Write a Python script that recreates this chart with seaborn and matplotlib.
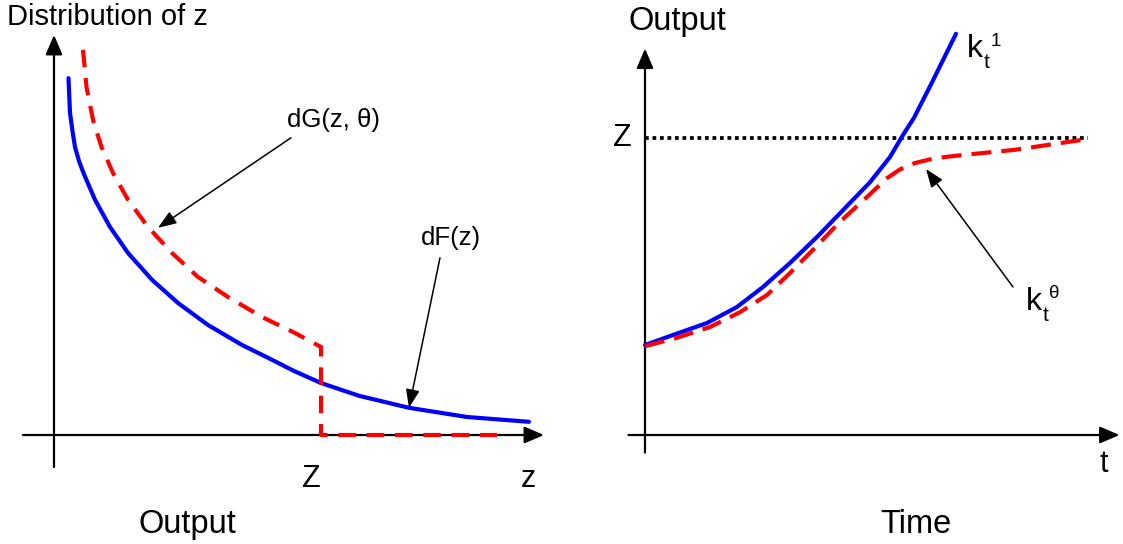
import matplotlib
matplotlib.use("Agg")
import matplotlib.pyplot as plt
import seaborn as sns
import numpy as np
import pandas as pd

sns.set_theme(style="white")
plt.rcParams['font.family'] = ['Liberation Sans', 'DejaVu Sans']
plt.rcParams['text.color'] = 'black'

# ---------------- data (schematic values) ----------------
# Left panel: distributions over output z
f_z = [0.29, 0.32, 0.37, 0.42, 0.5, 0.59, 0.82, 1.12, 1.48, 1.96, 2.48, 3.08,
       3.76, 4.28, 4.8, 5.34, 6.1, 7.1, 8.26, 9.5]
f_val = [8.92, 8.05, 7.6, 7.2, 6.85, 6.55, 5.88, 5.2, 4.55, 3.88, 3.3, 2.75,
         2.25, 1.93, 1.6, 1.3, 0.98, 0.68, 0.45, 0.33]

g_z = [0.58, 0.65, 0.78, 0.95, 1.18, 1.48, 1.88, 2.36, 2.88, 3.48, 4.16, 4.82,
       5.34, 5.34, 8.86]
g_val = [9.63, 8.7, 7.88, 7.2, 6.55, 5.88, 5.2, 4.55, 3.95, 3.45, 2.95, 2.55,
         2.2, 0.0, 0.0]
Z_left = 5.34

# Right panel: output paths over time
k1_t = [0.0, 0.56, 1.24, 1.84, 2.36, 2.9, 3.44, 3.96, 4.5, 4.9, 5.16, 5.38,
        5.73, 6.22]
k1_val = [2.25, 2.5, 2.8, 3.2, 3.7, 4.3, 4.95, 5.62, 6.32, 6.95, 7.5, 7.93,
          8.79, 10.03]

kth_t = [0.0, 0.64, 1.3, 1.9, 2.44, 2.9, 3.36, 3.9, 4.44, 4.84, 5.1, 5.4,
         5.7, 6.0, 6.36, 7.4, 8.86]
kth_val = [2.22, 2.43, 2.7, 3.07, 3.5, 4.05, 4.63, 5.33, 5.95, 6.42, 6.64,
           6.8, 6.89, 6.95, 7.0, 7.13, 7.4]

Z_level = 7.42
Z_line_t = [0.0, 8.86]

BLUE = "#0000ff"
RED = "#ff0000"

fig = plt.figure(figsize=(11.23, 5.44), dpi=100)
axL = fig.add_axes([0, 0, 561 / 1123, 1])
axR = fig.add_axes([561 / 1123, 0, 562 / 1123, 1])
axL.set_xlim(-1.08, 10.14)
axR.set_xlim(-1.68, 9.56)
for ax in (axL, axR):
    ax.set_ylim(-2.725, 10.875)
    ax.set_axis_off()

axis_arrow = dict(arrowstyle='-|>,head_length=0.7,head_width=0.3', lw=1.6,
                  color='black', shrinkA=0, shrinkB=0, mutation_scale=17)
thin_arrow = dict(arrowstyle='-|>,head_length=0.8,head_width=0.3', lw=1.1,
                  color='black', shrinkA=0, shrinkB=0, mutation_scale=14)

# ---------------- left panel ----------------
axL.annotate('', xy=(9.8, 0), xytext=(-0.62, 0), arrowprops=axis_arrow, zorder=1)
axL.annotate('', xy=(0, 10.0), xytext=(0, -0.8), arrowprops=axis_arrow, zorder=1)

sns.lineplot(x=f_z, y=f_val, ax=axL, color=BLUE, lw=3.0, sort=False,
             estimator=None, solid_capstyle='round')
axL.lines[-1].set_zorder(5)
sns.lineplot(x=g_z, y=g_val, ax=axL, color=RED, lw=3.0, sort=False,
             estimator=None)
axL.lines[-1].set_dashes([4.2, 2.6])
axL.lines[-1].set_dash_capstyle('butt')
axL.lines[-1].set_zorder(6)

axL.annotate('', xy=(2.08, 5.18), xytext=(4.74, 7.43), arrowprops=thin_arrow)
axL.annotate('', xy=(7.1, 0.68), xytext=(7.72, 4.43), arrowprops=thin_arrow)

axL.text(-0.94, 10.25, 'Distribution of z', fontsize=21, va='baseline', ha='left')
axL.text(4.66, 7.7, 'dG(z, θ)', fontsize=18.5, va='baseline', ha='left')
axL.text(7.34, 4.75, 'dF(z)', fontsize=18.5, va='baseline', ha='left')
axL.text(Z_left - 0.38, -1.3, 'Z', fontsize=22, va='baseline', ha='left')
axL.text(9.34, -1.3, 'z', fontsize=22, va='baseline', ha='left')
axL.text(1.7, -2.45, 'Output', fontsize=23.5, va='baseline', ha='left')

# ---------------- right panel ----------------
axR.annotate('', xy=(9.49, 0), xytext=(-0.33, 0), arrowprops=axis_arrow, zorder=1)
axR.annotate('', xy=(0, 9.66), xytext=(0, -0.44), arrowprops=axis_arrow, zorder=1)

sns.lineplot(x=Z_line_t, y=[Z_level, Z_level], ax=axR, color='black', lw=2.7,
             sort=False, estimator=None)
axR.lines[-1].set_dashes([1, 1])
axR.lines[-1].set_dash_capstyle('butt')
axR.lines[-1].set_zorder(4)

sns.lineplot(x=k1_t, y=k1_val, ax=axR, color=BLUE, lw=3.0, sort=False,
             estimator=None, solid_capstyle='round')
axR.lines[-1].set_zorder(5)
sns.lineplot(x=kth_t, y=kth_val, ax=axR, color=RED, lw=3.0, sort=False,
             estimator=None)
axR.lines[-1].set_dashes([4.8, 2.4])
axR.lines[-1].set_dash_capstyle('butt')
axR.lines[-1].set_zorder(6)

axR.annotate('', xy=(5.62, 6.65), xytext=(7.36, 3.7), arrowprops=thin_arrow)

axR.text(-0.34, 10.125, 'Output', fontsize=23.5, va='baseline', ha='left')
axR.text(-0.64, Z_level, 'Z', fontsize=22, va='center', ha='left')
axR.text(9.1, -0.925, 't', fontsize=22, va='baseline', ha='left')
axR.text(4.7, -2.45, 'Time', fontsize=23.5, va='baseline', ha='left')

# k_t^1 label
axR.text(6.44, 9.45, 'k', fontsize=23, va='baseline', ha='left')
axR.text(6.77, 9.18, 't', fontsize=15, va='baseline', ha='left')
axR.text(6.91, 9.72, '1', fontsize=13.5, va='baseline', ha='left')
# k_t^theta label
axR.text(7.62, 3.125, 'k', fontsize=23, va='baseline', ha='left')
axR.text(7.95, 2.86, 't', fontsize=15, va='baseline', ha='left')
axR.text(8.09, 3.42, 'θ', fontsize=13.5, va='baseline', ha='left')

fig.savefig('out.png', dpi=100)
